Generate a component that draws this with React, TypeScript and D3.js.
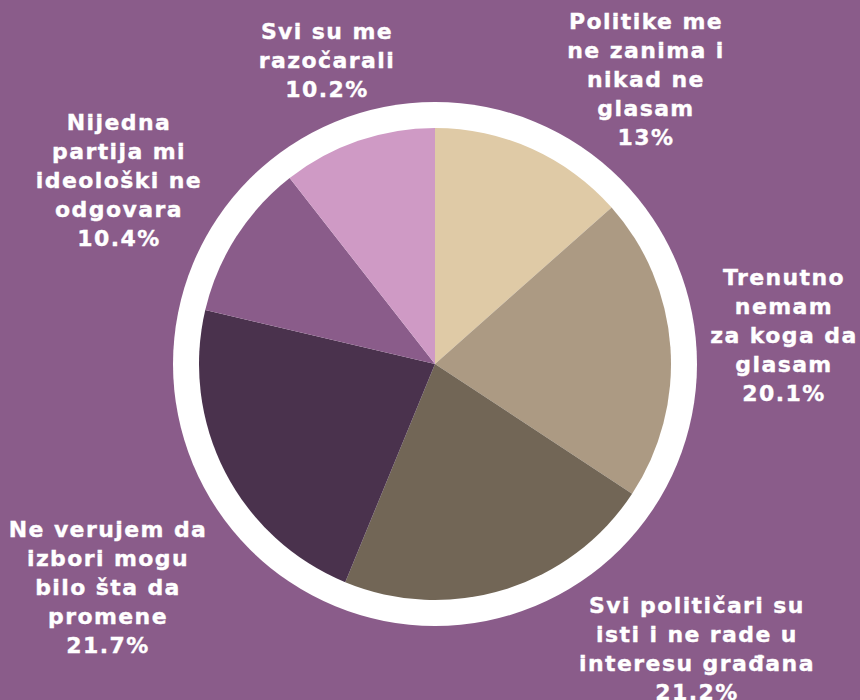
import React from "react";
import * as d3 from "d3";

const categories = [
  ["Politike me", "ne zanima i", "nikad ne", "glasam"],
  ["Trenutno", "nemam", "za koga da", "glasam"],
  ["Svi političari su", "isti i ne rade u", "interesu građana"],
  ["Ne verujem da", "izbori mogu", "bilo šta da", "promene"],
  ["Nijedna", "partija mi", "ideološki ne", "odgovara"],
  ["Svi su me", "razočarali"],
];
const values = [13, 20.1, 21.2, 21.7, 10.4, 10.2];
const valueLabels = ["13%", "20.1%", "21.2%", "21.7%", "10.4%", "10.2%"];
const colors = ["#dfcaa6", "#ac9a83", "#726656", "#4a324d", "#8a5c8a", "#cf9ac5"];

// label block layout (center x, first line center y)
const labelLayout = [
  [646, 21],
  [784, 277],
  [697, 605],
  [108, 529],
  [119, 122],
  [327, 31],
];

const W = 860;
const H = 700;
const cx = 435;
const cy = 364;
const R = 236;
const ringR = 262;
const lineH = 29;

export default function App() {
  const pie = d3.pie<number>().value((d) => d).sort(null);
  const arcs = pie(values);
  const arc = d3.arc<d3.PieArcDatum<number>>().innerRadius(0).outerRadius(R);
  return (
    <svg
      width={W}
      height={H}
      style={{ position: "absolute", left: 0, top: 0, display: "block" }}
    >
      <rect x={0} y={0} width={W} height={H} fill="#8a5c8a" />
      <circle cx={cx} cy={cy} r={ringR} fill="#ffffff" />
      <g transform={`translate(${cx},${cy})`}>
        {arcs.map((a, i) => (
          <path key={i} d={arc(a) || ""} fill={colors[i]} />
        ))}
      </g>
      {categories.map((lines, i) => {
        const [x, y0] = labelLayout[i];
        const all = [...lines, valueLabels[i]];
        return (
          <text
            key={i}
            textAnchor="middle"
            fill="#ffffff"
            stroke="#ffffff"
            strokeWidth={0.35}
            fontFamily="'DejaVu Sans', sans-serif"
            fontWeight="bold"
            fontSize={22}
            letterSpacing={1.4}
          >
            {all.map((t, j) => (
              <tspan key={j} x={x} y={y0 + j * lineH} dy="0.36em">
                {t}
              </tspan>
            ))}
          </text>
        );
      })}
    </svg>
  );
}
